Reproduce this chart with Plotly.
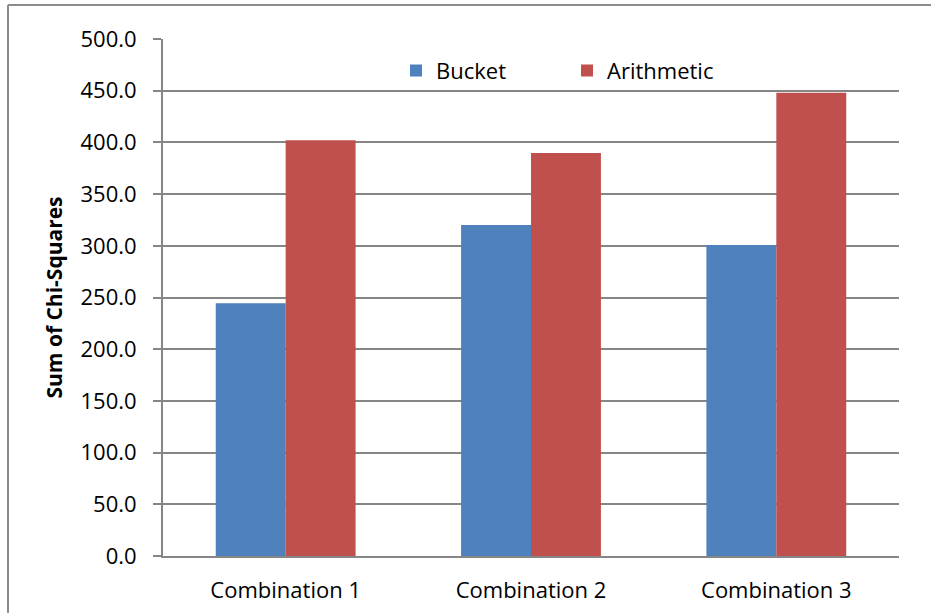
import plotly.graph_objects as go

categories = ["Combination 1", "Combination 2", "Combination 3"]
bucket = [244.5, 320.0, 300.7]
arithmetic = [402.2, 389.7, 448.0]
series_names = ["Bucket", "Arithmetic"]
colors = ["#4F81BD", "#C0504D"]
y_title = "Sum of Chi-Squares"

W, H = 931, 613
ml, mr, mt, mb = 163, 32, 39, 57
pw, ph = W - ml - mr, H - mt - mb

FONT = "Open Sans"

fig = go.Figure()
for name, vals, col in zip(series_names, [bucket, arithmetic], colors):
    fig.add_trace(go.Bar(x=categories, y=vals, name=name,
                         marker=dict(color=col, line=dict(width=0))))

# outer chart border (left and top edges visible)
bx = (8 - ml) / pw
by = 1 + (mt - 5) / ph
fig.add_shape(type="line", xref="paper", yref="paper", x0=bx, x1=bx, y0=-0.3, y1=by,
              line=dict(color="#8c8c8c", width=2))
fig.add_shape(type="line", xref="paper", yref="paper", x0=bx, x1=1.3, y0=by, y1=by,
              line=dict(color="#8c8c8c", width=2))

fig.update_layout(
    width=W, height=H,
    margin=dict(l=ml, r=mr, t=mt, b=mb, autoexpand=False),
    paper_bgcolor="white", plot_bgcolor="white",
    font=dict(family=FONT, size=22, color="black"),
    barmode="group", bargap=0.43, bargroupgap=0,
    showlegend=True,
    legend=dict(orientation="h", x=(396 - ml) / pw, xanchor="left",
                y=1 + (mt - 70.7) / ph, yanchor="middle",
                font=dict(family=FONT, size=22),
                entrywidth=126, entrywidthmode="pixels",
                bgcolor="rgba(0,0,0,0)", itemclick=False),
    xaxis=dict(showgrid=False, showline=True, linecolor="#868686", linewidth=2,
               ticks="", ticklabelstandoff=14, tickfont=dict(size=22),
               automargin=False),
    yaxis=dict(range=[0, 500], dtick=50, tickformat=".1f",
               showgrid=True, gridcolor="#868686", gridwidth=2,
               showline=True, linecolor="#868686", linewidth=2,
               ticks="outside", ticklen=8, tickcolor="#868686", tickwidth=2,
               ticklabelstandoff=12, zeroline=False,
               tickfont=dict(size=22), automargin=False,
               title=dict(text="<b>" + y_title + "</b>", font=dict(size=21), standoff=12)),
)

fig.write_html("out.html", config={"displayModeBar": False},
               post_script="document.body.style.margin='0';document.body.style.overflow='hidden';")
